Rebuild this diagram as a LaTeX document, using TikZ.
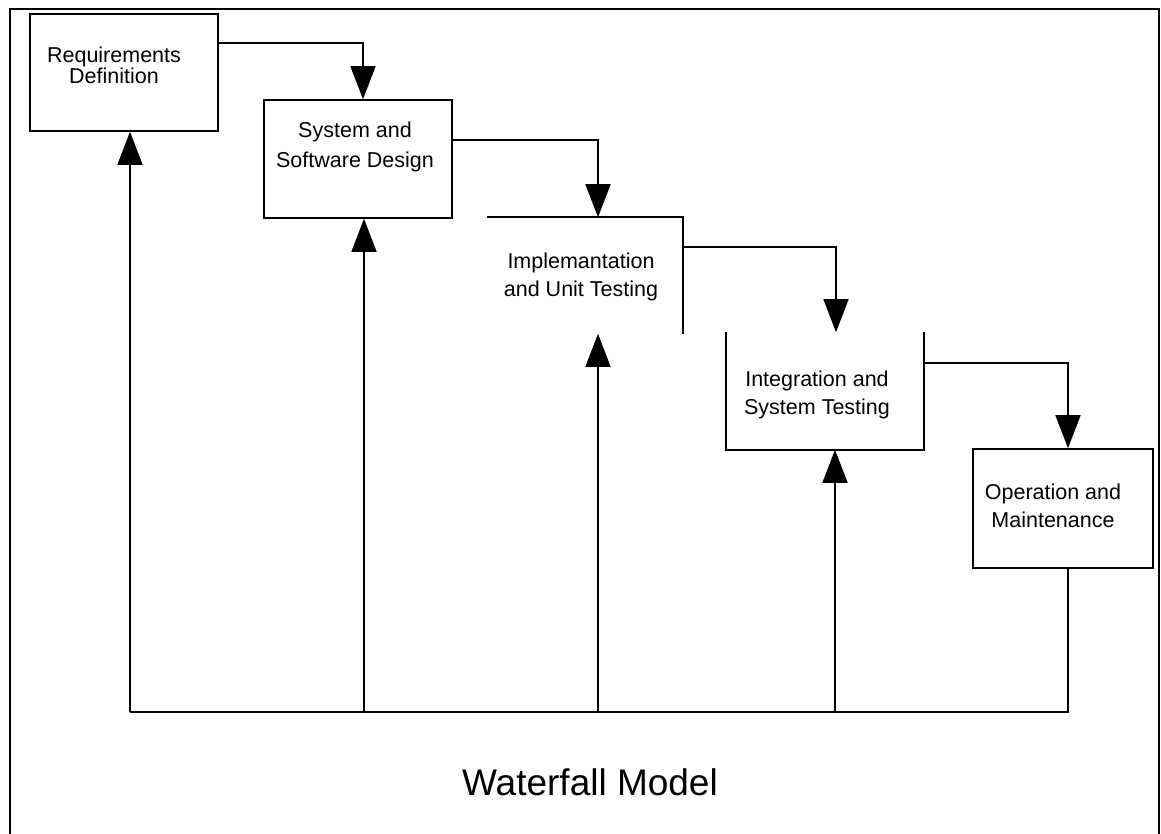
\documentclass[tikz,border=0pt]{standalone}
\usepackage{fontspec}
\setmainfont{Liberation Sans}
\usetikzlibrary{arrows.meta,calc}

\begin{document}
\begin{tikzpicture}[
  x=1pt, y=-1pt,
  phase/.style={draw=black, line width=1.6pt, minimum width=#1, inner sep=0pt},
  phasetxt/.style={anchor=base, align=center, inner sep=0pt,
                   font=\fontsize{21.5pt}{28pt}\selectfont},
  flow/.style={-{Triangle[width=25pt,length=33pt]}, line width=1.6pt},
  link/.style={line width=1.6pt},
]

\useasboundingbox (0,0) rectangle (1161,834);

% ---- outer frame (open at the bottom) ----
\draw[line width=1.5pt] (10,834) -- (10,9) -- (1159,9) -- (1159,834);

% ---- phase boxes ----
\node[phase=188pt, minimum height=117pt] (req) at (124,72.5) {};
\node[phase=188pt, minimum height=118pt] (sys) at (358,159) {};
\node[phase=194pt, minimum height=115pt, draw=none] (impl) at (585,275.5) {};
\node[phase=196pt, minimum height=116pt, draw=none] (integ) at (825,391) {};
\node[phase=180pt, minimum height=119pt] (oper) at (1063,508.5) {};

% open sides, as printed
\draw[link] (impl.north west) -- (impl.north east) -- (impl.south east);
\draw[link] (integ.north west) -- (integ.south west) -- (integ.south east) -- (integ.north east);

% ---- box texts (anchored on the second line) ----
\node[phasetxt] (reqtxt) at (114,84) {Requirements\\[-7pt]Definition};
\node[phasetxt] (systxt) at (355,168) {System and\\[2pt]Software Design};
\node[phasetxt] (impltxt) at (581,296) {Implemantation\\and Unit Testing};
\node[phasetxt] (integtxt) at (817,414) {Integration and\\System Testing};
\node[phasetxt] (opertxt) at (1053,527) {Operation and\\Maintenance};

% ---- cascade arrows ----
\draw[flow] ([yshift=29.5pt]req.east) -| ([xshift=5pt]sys.north);
\draw[flow] ([yshift=19pt]sys.east) -| ([xshift=13pt]impl.north);
\draw[flow] ([yshift=28.5pt]impl.east) -| ([xshift=11pt]integ.north);
\draw[flow] ([yshift=28pt]integ.east) -| ([xshift=5pt]oper.north);

% ---- feedback lines ----
\coordinate (b1) at (130,712);
\coordinate (b2) at (364,712);
\coordinate (b3) at (598,712);
\coordinate (b4) at (835,712);
\draw[link] ([xshift=5pt]oper.south) |- (b1);
\draw[flow] (b1) -- (b1 |- req.south);
\draw[flow] (b2) -- (b2 |- sys.south);
\draw[flow] (b3) -- (b3 |- impl.south);
\draw[flow] (b4) -- (b4 |- integ.south);

% ---- title ----
\node[anchor=base, inner sep=0pt, font=\fontsize{37pt}{44pt}\selectfont] (title) at (590,795) {Waterfall Model};

\end{tikzpicture}
\end{document}
